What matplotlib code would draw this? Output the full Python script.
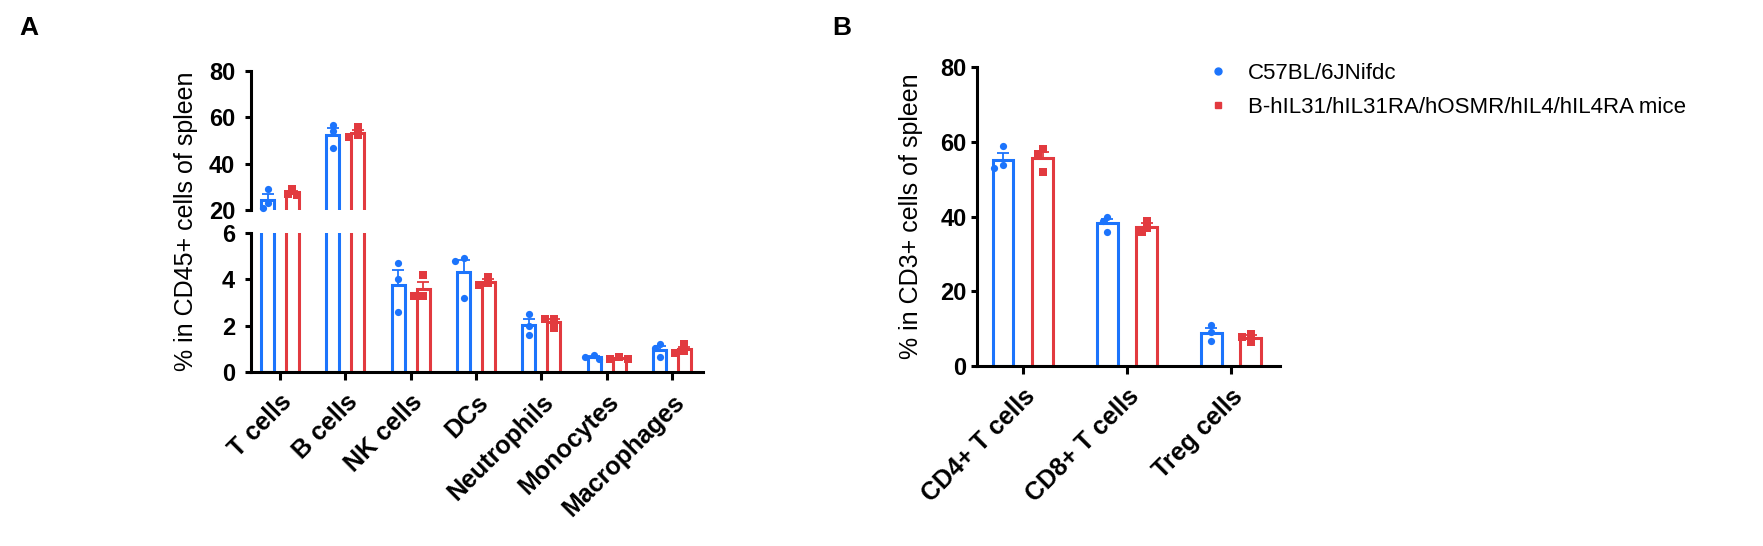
import numpy as np
import matplotlib
matplotlib.use("Agg")
import matplotlib.pyplot as plt
from matplotlib.lines import Line2D

plt.rcParams['font.family'] = ['Liberation Sans', 'DejaVu Sans']

# -----------------------------
# DATA (individual mice, % of parent)
# -----------------------------
groups = ["C57BL/6JNifdc", "B-hIL31/hIL31RA/hOSMR/hIL4/hIL4RA mice"]

cells_a = ["T cells", "B cells", "NK cells", "DCs", "Neutrophils", "Monocytes", "Macrophages"]
wt_a = [[29.0, 23.0, 21.0], [56.7, 54.0, 46.8], [4.7, 4.0, 2.6], [4.9, 4.8, 3.2],
        [2.5, 2.0, 1.6], [0.73, 0.55, 0.65], [1.2, 1.03, 0.65]]
hu_a = [[29.0, 27.0, 26.5], [56.0, 51.5, 52.5], [4.2, 3.3, 3.3], [4.1, 3.75, 3.85],
        [2.3, 2.3, 1.9], [0.65, 0.55, 0.55], [1.2, 0.9, 0.82]]

cells_b = ["CD4+ T cells", "CD8+ T cells", "Treg cells"]
wt_b = [[58.8, 52.9, 53.7], [38.8, 39.9, 35.8], [11.0, 9.1, 6.7]]
hu_b = [[58.0, 56.7, 51.9], [37.0, 35.8, 38.9], [6.4, 8.6, 7.8]]

# -----------------------------
# STYLE
# -----------------------------
BLUE = "#1C74FC"
RED = "#E23A3F"
BAR_W = 0.2
OFF = 0.19
LW = 2.2
FW, FH = 1763, 546


def swarm_x(ax, xc, ys, step=4.5, diam=5.5):
    # spread overlapping points sideways (in pixels), prism-style
    pts = ax.transData.transform([(xc, y) for y in ys])
    placed = []
    xs_px = [0.0] * len(ys)
    for i in np.argsort(-np.asarray(ys)):
        px, py = pts[i]
        for k in [0, -1, 1, -2, 2]:
            cx = px + k * step
            if all(np.hypot(cx - qx, py - qy) >= diam for qx, qy in placed):
                break
        placed.append((cx, py))
        xs_px[i] = cx
    inv = ax.transData.inverted()
    return [inv.transform((x, pts[i][1]))[0] for i, x in enumerate(xs_px)]


def draw_group(ax, xc, vals, color, marker):
    m = np.mean(vals)
    sem = np.std(vals, ddof=1) / np.sqrt(len(vals))
    ax.bar(xc, m, width=BAR_W, facecolor="white", edgecolor=color, linewidth=LW, zorder=2)
    lo, hi = ax.get_ylim()
    if lo <= m <= hi:
        ax.errorbar(xc, m, yerr=[[0], [sem]], color=color, lw=1.3, capsize=4,
                    capthick=1.3, zorder=3)
        xs = swarm_x(ax, xc, vals)
        ax.scatter(xs, vals, s=27, marker=marker, color=color, zorder=4,
                   clip_on=False, linewidths=0)


def style_axes(ax, bottom=True):
    for s in ["top", "right"]:
        ax.spines[s].set_visible(False)
    ax.spines["left"].set_linewidth(LW)
    ax.spines["bottom"].set_linewidth(LW)
    ax.spines["bottom"].set_visible(bottom)
    ax.tick_params(axis="y", direction="out", length=4.5, width=LW, labelsize=17)
    ax.tick_params(axis="x", direction="out", length=6, width=LW, labelsize=18)
    for t in ax.get_yticklabels():
        t.set_fontweight("bold")
    if not bottom:
        ax.set_xticks([])


fig = plt.figure(figsize=(FW / 100, FH / 100), dpi=100)

# -----------------------------
# PANEL A (broken y axis)
# -----------------------------
axA_top = fig.add_axes([251 / FW, 1 - 210 / FH, 452 / FW, 139 / FH])
axA_bot = fig.add_axes([251 / FW, 1 - 372 / FH, 452 / FW, 139 / FH])
xa = np.arange(len(cells_a))
for ax, lim, ticks in [(axA_top, (20, 80), [20, 40, 60, 80]), (axA_bot, (0, 6), [0, 2, 4, 6])]:
    ax.set_xlim(-0.444, len(cells_a) - 1 + 0.475)
    ax.set_ylim(*lim)
    ax.set_yticks(ticks)
    for i in range(len(cells_a)):
        draw_group(ax, xa[i] - OFF, wt_a[i], BLUE, "o")
        draw_group(ax, xa[i] + OFF, hu_a[i], RED, "s")
    ax.tick_params(axis="y", pad=7)

style_axes(axA_top, bottom=False)
axA_bot.set_xticks(xa)
axA_bot.set_xticklabels(cells_a, rotation=45, ha="right", va="top",
                        rotation_mode="anchor", fontweight="bold")
style_axes(axA_bot)
axA_bot.tick_params(axis="x", pad=7)

fig.text(186 / FW, 1 - 221 / FH, "% in CD45+ cells of spleen", rotation=90,
         fontsize=18, ha="center", va="center")

# -----------------------------
# PANEL B
# -----------------------------
axB = fig.add_axes([977 / FW, 1 - 366 / FH, 303 / FW, 299 / FH])
xb = np.arange(len(cells_b))
axB.set_xlim(-0.44, len(cells_b) - 1 + 0.47)
axB.set_ylim(0, 80)
axB.set_yticks([0, 20, 40, 60, 80])
for i in range(len(cells_b)):
    draw_group(axB, xb[i] - OFF, wt_b[i], BLUE, "o")
    draw_group(axB, xb[i] + OFF, hu_b[i], RED, "s")
axB.set_xticks(xb)
axB.set_xticklabels(cells_b, rotation=45, ha="right", va="top",
                    rotation_mode="anchor", fontweight="bold")
style_axes(axB)
axB.tick_params(axis="y", pad=3)
axB.tick_params(axis="x", pad=7)

fig.text(911 / FW, 1 - 216 / FH, "% in CD3+ cells of spleen", rotation=90,
         fontsize=18, ha="center", va="center")

# legend
handles = [
    Line2D([0], [0], marker="o", color=BLUE, linestyle="none", markersize=5),
    Line2D([0], [0], marker="s", color=RED, linestyle="none", markersize=5),
]
fig.legend(handles, groups, loc="upper left", bbox_to_anchor=(1209 / FW, 1 - 63 / FH),
           frameon=False, fontsize=16, handlelength=0.8, handletextpad=0.95,
           labelspacing=0.58, borderpad=0, borderaxespad=0)

# panel letters
fig.text(29 / FW, 1 - 28 / FH, "A", fontsize=19, fontweight="bold", ha="center", va="center")
fig.text(842 / FW, 1 - 28 / FH, "B", fontsize=19, fontweight="bold", ha="center", va="center")

fig.savefig("out.png", dpi=100)
